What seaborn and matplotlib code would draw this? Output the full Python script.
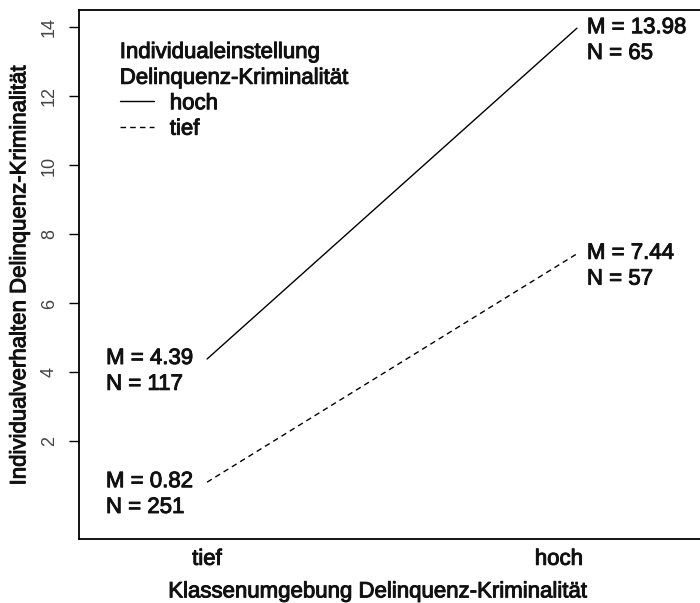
import numpy as np
import pandas as pd
import matplotlib
matplotlib.use("Agg")
import matplotlib.pyplot as plt
import matplotlib.patheffects as pe
from matplotlib.transforms import ScaledTranslation
import seaborn as sns

# Werte aus der Abbildung
klassen = ["tief", "hoch"]                 # Klassenumgebung
gruppen = ["hoch", "tief"]                 # Individualeinstellung
mittel_hoch = [4.39, 13.98]
mittel_tief = [0.82, 7.44]
n_hoch = [117, 65]
n_tief = [251, 57]
y_ticks = [2, 4, 6, 8, 10, 12, 14]

df = pd.DataFrame({
    "klasse": klassen * 2,
    "gruppe": [gruppen[0]] * 2 + [gruppen[1]] * 2,
    "M": mittel_hoch + mittel_tief,
    "N": n_hoch + n_tief,
})

sns.set_style("white")
plt.rcParams["font.family"] = ["Liberation Sans", "DejaVu Sans"]

FS = 16
TXT = "#111111"
dick = [pe.withStroke(linewidth=0.7, foreground=TXT)]  # etwas kräftigere Schrift

fig = plt.figure(figsize=(7, 6.03), dpi=100)
ax = fig.add_axes([0.113, 0.106, 0.894, 0.877])

sns.lineplot(data=df, x="klasse", y="M", hue="gruppe", style="gruppe",
             palette={"hoch": "black", "tief": "black"},
             dashes={"hoch": "", "tief": (4, 3)}, lw=1.0, ax=ax, legend=False)

ax.set_xlim(-0.346, 1.346)
ax.set_ylim(-0.83, 14.5)

# Beschriftungen M / N an den Endpunkten
for _, row in df.iterrows():
    xi = klassen.index(row["klasse"])
    if xi == 0:
        dx, ha = -14, "right"
    else:
        dx, ha = 10, "left"
    ax.annotate(f"M = {row['M']:.2f}\nN = {row['N']}", (xi, row["M"]),
                xytext=(dx, 11), textcoords="offset pixels", ha=ha, va="top",
                multialignment="left", linespacing=1.3,
                fontsize=FS, color=TXT, path_effects=dick)

# Achsen
ax.set_yticks(y_ticks)
ax.set_yticklabels([str(t) for t in y_ticks], rotation=90, va="center",
                   fontsize=13, color="#444444")
ax.tick_params(axis="y", length=7.2, width=1.0, pad=8, left=True, color="black")
ax.set_xticks(range(len(klassen)))
ax.set_xticklabels(klassen, fontsize=FS, color=TXT)
ax.tick_params(axis="x", length=0, pad=7)
lab = ax.get_xticklabels()[1]
lab.set_transform(lab.get_transform() + ScaledTranslation(-18 / 100, 0, fig.dpi_scale_trans))
for t in ax.get_xticklabels():
    t.set_path_effects(dick)

ax.set_xlabel("Klassenumgebung Delinquenz-Kriminalität", fontsize=FS, color=TXT,
              path_effects=dick)
ax.xaxis.set_label_coords(0.478, -0.08)
ax.set_ylabel("Individualverhalten Delinquenz-Kriminalität", fontsize=FS, color=TXT,
              path_effects=dick)
ax.yaxis.set_label_coords(-0.078, 0.5)

for side in ["left", "bottom", "top", "right"]:
    ax.spines[side].set_visible(True)
    ax.spines[side].set_color("black")
    ax.spines[side].set_linewidth(1.3)

# Legende
handles = [plt.Line2D([], [], color="black", lw=1.0),
           plt.Line2D([], [], color="black", lw=1.0, dashes=(4, 3))]
leg = ax.legend(handles, gruppen, title="Individualeinstellung\nDelinquenz-Kriminalität",
                loc="upper left", bbox_to_anchor=(0.065, 0.94), frameon=False,
                fontsize=FS, title_fontsize=FS, handlelength=1.55,
                handletextpad=0.7, labelspacing=0.2, alignment="left",
                borderaxespad=0, borderpad=0)
leg.get_title().set_linespacing(1.3)
for t in [leg.get_title()] + leg.get_texts():
    t.set_color(TXT)
    t.set_path_effects(dick)

fig.savefig("out.png", dpi=100)
